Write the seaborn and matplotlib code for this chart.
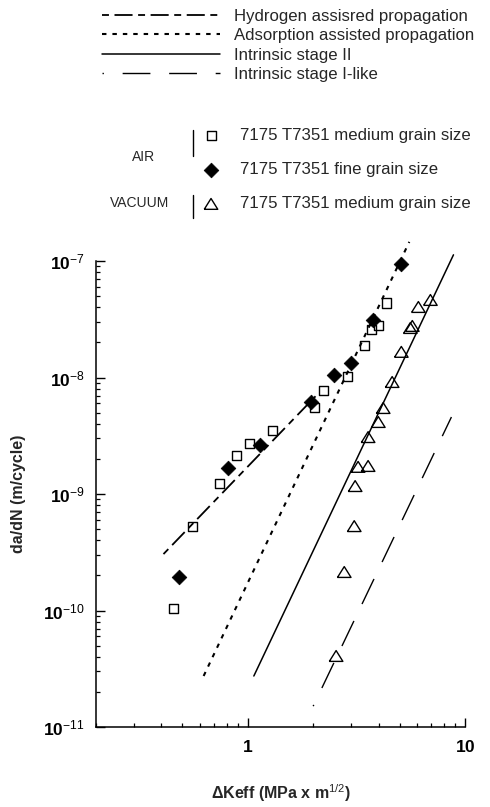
import numpy as np
import matplotlib
matplotlib.use("Agg")
import matplotlib.pyplot as plt
import seaborn as sns
from matplotlib.ticker import LogLocator, FixedLocator, FuncFormatter, NullFormatter
from matplotlib.lines import Line2D

# ---------------- data ----------------
sq_x = [0.455, 0.557, 0.743, 0.89, 1.02, 1.30, 2.02, 2.24, 2.87, 3.43, 3.70, 3.99, 4.34]
sq_y = [1.05e-10, 5.3e-10, 1.24e-9, 2.16e-9, 2.74e-9, 3.54e-9, 5.58e-9, 7.8e-9,
        1.01e-8, 1.90e-8, 2.56e-8, 2.77e-8, 4.36e-8]

dia_x = [0.48, 0.81, 1.14, 1.95, 2.50, 2.99, 3.78, 5.09]
dia_y = [1.94e-10, 1.67e-9, 2.64e-9, 6.17e-9, 1.05e-8, 1.33e-8, 3.12e-8, 9.4e-8]

tri_x = [6.93, 6.10, 5.60, 5.72, 5.09, 4.62, 4.20, 3.99, 3.58, 3.22, 3.58, 3.12, 3.09, 2.78, 2.55]
tri_y = [4.63e-8, 4.03e-8, 2.66e-8, 2.77e-8, 1.66e-8, 9.15e-9, 5.47e-9, 4.15e-9,
         3.08e-9, 1.71e-9, 1.74e-9, 1.17e-9, 5.3e-10, 2.14e-10, 4.07e-11]

hyd_x = [0.409, 2.05]
hyd_y = [3.05e-10, 6.9e-9]
ads_x = [0.626, 5.54]
ads_y = [2.74e-11, 1.46e-7]
st2_x = [1.066, 8.85]
st2_y = [2.74e-11, 1.13e-7]
st1_x = [2.0, 8.66]
st1_y = [1.51e-11, 4.58e-9]

line_labels = ["Hydrogen assisred propagation", "Adsorption assisted propagation",
               "Intrinsic stage II", "Intrinsic stage I-like"]
point_labels = ["7175 T7351 medium grain size", "7175 T7351 fine grain size",
                "7175 T7351 medium grain size "]
x_ticks = [1, 10]
x_ticklabels = ["1", "10"]
y_exponents = [-11, -10, -9, -8, -7]

# ---------------- style ----------------
sns.set_style("ticks")
plt.rcParams["font.family"] = ["Liberation Sans", "DejaVu Sans"]
plt.rcParams["mathtext.fontset"] = "custom"
plt.rcParams["mathtext.rm"] = "Liberation Sans"
plt.rcParams["mathtext.it"] = "Liberation Sans:italic"
plt.rcParams["mathtext.bf"] = "Liberation Sans:bold"
plt.rcParams["lines.scale_dashes"] = False
plt.rcParams["axes.unicode_minus"] = True

W, H = 490, 807
fig = plt.figure(figsize=(W / 100, H / 100), dpi=100)
ax = fig.add_axes([96 / W, 80 / H, 369 / W, 466 / H])
ax.set_xscale("log")
ax.set_yscale("log")

# ---------------- lines ----------------
sns.lineplot(x=hyd_x, y=hyd_y, ax=ax, color="black", linewidth=1.3,
             linestyle=(0, (5, 4, 13, 4)), label=line_labels[0], legend=False, clip_on=False)
sns.lineplot(x=ads_x, y=ads_y, ax=ax, color="black", linewidth=1.5,
             linestyle=(0, (3.2, 4.3)), label=line_labels[1], legend=False, clip_on=False)
sns.lineplot(x=st2_x, y=st2_y, ax=ax, color="black", linewidth=1.1,
             linestyle="-", label=line_labels[2], legend=False, clip_on=False)
sns.lineplot(x=st1_x, y=st1_y, ax=ax, color="black", linewidth=1.0,
             linestyle=(19, (20, 13.5)), label=line_labels[3], legend=False, clip_on=False)

# ---------------- points ----------------
tri_marker = [(-1, -0.8), (1, -0.8), (0, 0.8), (-1, -0.8)]
sns.scatterplot(x=sq_x, y=sq_y, ax=ax, marker="s", s=42, facecolor="none",
                edgecolor="black", linewidth=1.0, label=point_labels[0], legend=False,
                zorder=3, clip_on=False)
sns.scatterplot(x=dia_x, y=dia_y, ax=ax, marker="D", s=56, color="black",
                edgecolor="black", linewidth=0.5, label=point_labels[1], legend=False,
                zorder=4, clip_on=False)
sns.scatterplot(x=tri_x, y=tri_y, ax=ax, marker=tri_marker, s=95, facecolor="none",
                edgecolor="black", linewidth=1.0, label=point_labels[2], legend=False,
                zorder=3, clip_on=False)

# ---------------- axes ----------------
ax.set_xlim(0.2, 10)
ax.set_ylim(1e-11, 1e-7)
sns.despine(ax=ax)
for sp in ("left", "bottom"):
    ax.spines[sp].set_linewidth(1.1)
    ax.spines[sp].set_color("black")

ax.set_xticks(x_ticks)
ax.set_xticklabels([r"$\mathbf{%s}$" % t for t in x_ticklabels])
ax.xaxis.set_minor_locator(LogLocator(base=10, subs=np.arange(2, 10)))
ax.xaxis.set_minor_formatter(NullFormatter())

ax.yaxis.set_major_locator(FixedLocator([10.0 ** e for e in y_exponents]))
ax.yaxis.set_major_formatter(FuncFormatter(
    lambda v, p: r"$\mathbf{10}^{%d}$" % int(round(np.log10(v)))))
ax.yaxis.set_minor_locator(LogLocator(base=10, subs=np.arange(2, 10)))
ax.yaxis.set_minor_formatter(NullFormatter())

ax.tick_params(which="major", direction="in", length=6.5, width=1.0, labelsize=12.5,
               colors="black")
ax.tick_params(which="minor", direction="in", length=3.2, width=0.9, colors="black")
ax.tick_params(axis="x", which="major", pad=9)
ax.tick_params(axis="y", which="major", pad=8)

ax.set_xlabel("ΔKeff (MPa x m$^{1/2}$)", fontsize=11.5, fontweight="bold")
ax.set_ylabel("da/dN (m/cycle)", fontsize=11.5, fontweight="bold")
ax.xaxis.set_label_coords(0.5, -(782 - 727) / 466)
ax.yaxis.set_label_coords((26 - 96) / 369, 0.5)

# ---------------- legends ----------------
handles, labels = ax.get_legend_handles_labels()
hmap = dict(zip(labels, handles))
leg1 = fig.legend([hmap[l] for l in line_labels], line_labels, loc="upper left",
                  bbox_to_anchor=(102 / W, 1 - 9 / H), frameon=False, fontsize=12.1,
                  handlelength=7.0, handletextpad=0.87, labelspacing=0.26,
                  borderpad=0, borderaxespad=0)
leg2 = fig.legend([hmap[l] for l in point_labels], [l.strip() for l in point_labels],
                  loc="upper left", bbox_to_anchor=(202.7 / W, 1 - 128 / H),
                  frameon=False, fontsize=12.1, handlelength=0.99, handletextpad=1.23,
                  labelspacing=1.14, borderpad=0, borderaxespad=0, scatterpoints=1)

fig.text(144 / W, 1 - 157 / H, "AIR", ha="center", va="center", fontsize=10)
fig.text(139.5 / W, 1 - 203 / H, "VACUUM", ha="center", va="center", fontsize=10)
fig.add_artist(Line2D([193 / W, 193 / W], [1 - 130 / H, 1 - 156 / H],
                      transform=fig.transFigure, color="black", lw=1.0))
fig.add_artist(Line2D([193 / W, 193 / W], [1 - 195 / H, 1 - 218 / H],
                      transform=fig.transFigure, color="black", lw=1.0))

fig.savefig("out.png", dpi=100)
